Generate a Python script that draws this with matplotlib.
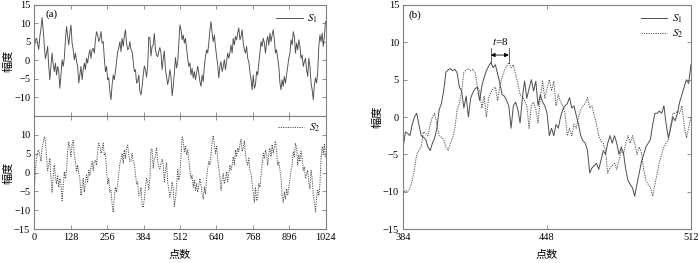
import numpy as np
import matplotlib
matplotlib.use("Agg")
import matplotlib.pyplot as plt

plt.rcParams['font.family'] = ['Liberation Serif', 'Noto Sans CJK SC']
plt.rcParams['mathtext.fontset'] = 'stix'
plt.rcParams['axes.unicode_minus'] = True

# full signal S1 at roughly 4-point spacing over 0..1024
s1_full = [
    3.8, 5.5, 6.0, 4.5, 3.0, 6.5, 8.5, 11.6, 8.3, 4.0, 0.5, 2.0,
    3.8, -1.6, -5.2, -1.2, 2.0, -1.2, -3.0, -0.7, -3.9, -1.6, -3.0, -7.5,
    -3.9, 0.2, -1.6, 0.6, 5.6, 9.2, 6.5, 4.2, 7.4, 9.6, 4.7, 2.9,
    0.2, 2.0, -0.3, -1.6, -6.1, -3.9, -1.6, -5.2, -2.5, -0.7, -2.5, 0.6,
    -0.7, 1.5, 2.9, 0.6, 2.9, 3.3, 2.0, 5.6, 7.8, 6.9, 5.1, 6.0,
    7.8, 4.7, 5.1, 0.6, -3.0, -1.6, -5.2, -4.7, -8.4, -10.6, -6.6, -3.9,
    -5.2, -3.0, -0.3, 2.4, 3.3, 5.1, 2.4, 6.0, 3.8, 6.5, 8.3, 4.7,
    2.9, 3.3, 5.1, 2.9, 2.4, -0.3, -3.0, -2.5, -6.1, -5.7, -3.9, -8.4,
    -9.3, -7.0,
    -4.0, -1.5, -2.5, -4.5, -1.5, 6.3, 6.2, 1.2, 3.8, 4.2, 7.3, 3.0,
    1.5, 1.0, 2.5, 3.5, 2.0, -2.5, 0.5, 2.6, -2.5, -4.5, -6.5, -5.0,
    -2.5, -4.4, -9.5, -7.0, -3.5, 0.8, -2.0, -0.5, 4.5,
    9.6, 8.3, 5.6, 6.9, 4.7, 6.0, 3.3, 0.6, -1.6, -0.7, -3.9, -2.1,
    -4.7, -3.0, -5.2, -3.4, -1.6, -3.4, -5.7, -7.0, -3.9, -5.7, -1.6, 1.1,
    2.9, 2.0, 4.7, 8.3, 10.5, 7.4, 5.1, 6.9, 3.8, 1.1, -1.2, -4.7,
    -1.6, -0.3, -3.0, -1.6, 0.2, -2.5, -0.3, 2.0, 0.6, 2.0, 4.2, 2.0,
    6.0, 4.2, 6.5, 5.6, 7.4, 8.8, 5.6, 6.5, 8.3, 4.7, 2.9, 2.0,
    3.8, 0.6, -0.3, -3.0, -5.2, -7.9, -3.9, -7.5, -6.6, -3.0, -3.9, -0.7,
    2.0, 5.1, 3.8, 6.0, 4.7, 2.0, 5.1, 6.5, 4.2, 7.4, 5.1, 6.9,
    8.3, 5.6, 2.0, 2.9, 0.6, -1.6, -6.1, -7.9, -5.2, -7.0, -4.3, -6.1,
    -3.9, -1.6, 0.6, 2.0, 5.6, 4.2, 7.8, 6.5, 2.0, 4.7, 2.9, 5.6,
    3.8, 0.6, 1.5, -1.6, -0.3, 0.6, -2.5, -4.3, 0.6, -1.6, -6.1, -7.9,
    -10.6, -6.6, -4.7, -6.1, -3.0, 3.8, 6.9, 5.1, 7.4, 3.8, 6.5, 10.5,
]

# S2 in panel (a): same shape, delayed by about 8 points
s2_full = [
    -5.0, 1.0,
    3.8, 5.5, 6.0, 4.5, 3.0, 6.5, 8.0, 9.5, 8.3, 4.0, 0.5, 2.0,
    3.8, -1.6, -5.2, -1.2, 2.0, -1.2, -3.0, -0.7, -3.9, -1.6, -3.0, -7.5,
    -3.9, 0.2, -1.6, 0.6, 5.6, 8.2, 6.5, 4.2, 7.4, 8.5, 4.7, 2.9,
    0.2, 2.0, -0.3, -1.6, -6.1, -3.9, -1.6, -5.2, -2.5, -0.7, -2.5, 0.6,
    -0.7, 1.5, 2.9, 0.6, 2.9, 3.3, 2.0, 5.6, 7.8, 6.9, 5.1, 6.0,
    7.8, 4.7, 5.1, 0.6, -3.0, -1.6, -5.2, -4.7, -8.4, -10.6, -6.6, -3.9,
    -5.2, -3.0, -0.3, 2.4, 3.3, 5.1, 2.4, 6.0, 3.8, 6.5, 7.3, 4.7,
    2.9, 3.3, 5.1, 2.9, 2.4, -0.3, -3.0, -2.5, -6.1, -5.7, -3.9, -8.4,
    -9.3, -7.0,
    -4.0, -1.5, -2.5, -4.5, -1.5, 6.3, 6.2, 1.2, 3.8, 4.2, 6.5, 3.0,
    1.5, 1.0, 2.5, 3.5, 2.0, -2.5, 0.5, 2.6, -2.5, -4.5, -6.5, -5.0,
    -2.5, -4.4, -9.0, -7.0, -3.5, 0.8, -2.0, -0.5, 4.5,
    9.6, 8.3, 5.6, 6.9, 4.7, 6.0, 3.3, 0.6, -1.6, -0.7, -3.9, -2.1,
    -4.7, -3.0, -5.2, -3.4, -1.6, -3.4, -5.7, -7.0, -3.9, -5.7, -1.6, 1.1,
    2.9, 2.0, 4.7, 8.3, 9.8, 7.4, 5.1, 6.9, 3.8, 1.1, -1.2, -4.7,
    -1.6, -0.3, -3.0, -1.6, 0.2, -2.5, -0.3, 2.0, 0.6, 2.0, 4.2, 2.0,
    6.0, 4.2, 6.5, 5.6, 7.4, 8.8, 5.6, 6.5, 8.3, 4.7, 2.9, 2.0,
    3.8, 0.6, -0.3, -3.0, -5.2, -7.9, -3.9, -7.5, -6.6, -3.0, -3.9, -0.7,
    2.0, 5.1, 3.8, 6.0, 4.7, 2.0, 5.1, 6.5, 4.2, 7.4, 5.1, 6.9,
    8.3, 5.6, 2.0, 2.9, 0.6, -1.6, -6.1, -7.9, -5.2, -7.0, -4.3, -6.1,
    -3.9, -1.6, 0.6, 2.0, 5.6, 4.2, 7.8, 6.5, 2.0, 4.7, 2.9, 5.6,
    3.8, 0.6, 1.5, -1.6, -0.3, 0.6, -2.5, -4.3, 0.6, -1.6, -6.1, -7.9,
    -10.6, -6.6, -4.7, -6.1, -3.0, 3.8, 6.9, 5.1, 7.4, 3.8,
]

# panel (b): points 384..512, one value per point
s1_zoom = [
    -4.0, -2.0, -2.2, -2.5, -1.0, 0.0, 0.5, -1.0, -2.5, -2.7,
    -3.0, -4.0, -4.5, -3.5, -2.8, -1.5, 1.0, 1.8, 3.5, 6.0,
    6.3, 6.5, 6.2, 6.4, 5.9, 4.0, 3.5, 1.2, 2.8, 0.0,
    2.5, 3.3, 3.8, 4.0, 2.2, 4.2, 5.3, 6.2, 6.8, 7.3,
    6.6, 7.0, 5.8, 4.5, 3.0, 2.8, 2.2, 1.5, -1.5, 1.5,
    2.0, 1.0, -0.8, 2.5, 4.8, 2.5, 3.8, 5.0, 3.5, 4.8,
    1.5, 3.0, 2.0, 1.5, 0.5, -2.5, -1.5, -2.5, -1.0, -1.5,
    0.0, 1.0, 1.5, 1.8, 2.6, 1.2, 1.5, 0.2, -1.0, -2.5,
    -3.2, -3.5, -4.5, -7.5, -6.8, -6.5, -6.2, -7.0, -5.8, -4.5,
    -5.0, -3.5, -2.5, -3.5, -2.5, -3.5, -5.0, -4.0, -4.8, -7.0,
    -8.5, -9.0, -9.5, -10.6, -9.0, -7.5, -6.0, -5.0, -4.0, -3.5,
    -3.0, -1.0, 0.5, 0.5, 0.8, 0.5, 1.5, -1.0, -2.8, -1.5,
    0.0, -0.5, 0.5, 2.0, 3.0, 4.0, 5.0, 4.5, 7.0,
]
s2_zoom = [
    -10.3, -9.8, -10.0, -9.5, -8.5, -7.0, -5.0, -4.5,
    -4.0, -2.0, -2.2, -2.5, -1.0, 0.0, 0.5, -1.0, -2.5, -2.7,
    -3.0, -4.0, -4.5, -3.5, -2.8, -1.5, 1.0, 1.8, 3.5, 6.0,
    6.3, 6.5, 6.2, 6.4, 5.9, 4.0, 3.5, 1.2, 2.8, 0.0,
    2.5, 3.3, 3.8, 4.0, 2.2, 4.2, 5.3, 6.2, 6.8, 7.3,
    6.6, 7.0, 5.8, 4.5, 3.0, 2.8, 2.2, 1.5, -1.5, 1.5,
    2.0, 1.0, -0.8, 2.5, 4.8, 2.5, 3.8, 5.0, 3.5, 4.8,
    1.5, 3.0, 2.0, 1.5, 0.5, -2.5, -1.5, -2.5, -1.0, -1.5,
    0.0, 1.0, 1.5, 1.8, 2.6, 1.2, 1.5, 0.2, -1.0, -2.5,
    -3.2, -3.5, -4.5, -7.5, -6.8, -6.5, -6.2, -7.0, -5.8, -4.5,
    -5.0, -3.5, -2.5, -3.5, -2.5, -3.5, -5.0, -4.0, -4.8, -7.0,
    -8.5, -9.0, -9.5, -10.6, -9.0, -7.5, -6.0, -5.0, -4.0, -3.5,
    -3.0, -1.0, 0.5, 0.5, 0.8, 0.5, 1.5, -1.0, -2.8, -1.5,
    0.0,
]
delay = 8
full_ticks = [0, 128, 256, 384, 512, 640, 768, 896, 1024]
zoom_ticks = [384, 448, 512]

x_full = np.linspace(0, 1024, len(s1_full))
x_full2 = np.linspace(0, 1024, len(s2_full))
x_zoom = np.arange(384, 384 + len(s1_zoom))

line_col = '#4d4d4d'
frame_col = '#808080'


def style_axes(ax):
    for sp in ax.spines.values():
        sp.set_color(frame_col)
        sp.set_linewidth(0.8)
    ax.tick_params(direction='in', top=True, right=True, length=3,
                   width=0.6, color=frame_col, labelsize=7.5, pad=3)


fig = plt.figure(figsize=(7, 2.63), dpi=100)
ax1 = fig.add_axes([0.049, 0.559, 0.416, 0.422])
ax2 = fig.add_axes([0.049, 0.129, 0.416, 0.430])
ax3 = fig.add_axes([0.576, 0.129, 0.411, 0.852])

# panel (a) top
ax1.plot(x_full, s1_full, color=line_col, lw=0.65, label='$S_1$')
ax1.set_xlim(0, 1024)
ax1.set_ylim(-15, 15)
ax1.set_xticks(full_ticks)
ax1.set_xticklabels([])
ax1.set_yticks([-10, -5, 0, 5, 10, 15])
style_axes(ax1)
ax1.set_ylabel('幅度', fontsize=8)
ax1.yaxis.set_label_coords(-0.072, 0.5)
ax1.text(0.038, 0.92, '(a)', transform=ax1.transAxes, fontsize=8,
         ha='left', va='center')
ax1.legend(loc='upper right', frameon=False, fontsize=8, handlelength=2.4,
           borderaxespad=0.3, handletextpad=0.4)

# panel (a) bottom
ax2.plot(x_full2, s2_full, color=line_col, lw=0.7, ls=(0, (1.2, 1.2)),
         label='$S_2$')
ax2.set_xlim(0, 1024)
ax2.set_ylim(-15, 15)
ax2.set_xticks(full_ticks)
ax2.set_yticks([-15, -10, -5, 0, 5, 10])
style_axes(ax2)
ax2.set_ylabel('幅度', fontsize=8)
ax2.yaxis.set_label_coords(-0.072, 0.5)
ax2.set_xlabel('点数', fontsize=8)
ax2.xaxis.set_label_coords(0.5, -0.18)
ax2.legend(loc='upper right', frameon=False, fontsize=8, handlelength=2.4,
           borderaxespad=0.1, handletextpad=0.4)

# panel (b)
ax3.plot(x_zoom, s1_zoom, color=line_col, lw=0.7, label='$S_1$')
ax3.plot(x_zoom, s2_zoom, color=line_col, lw=0.7, ls=(0, (1.2, 1.2)),
         label='$S_2$')
ax3.set_xlim(384, 512)
ax3.set_ylim(-15, 15)
ax3.set_xticks(zoom_ticks)
ax3.set_yticks([-15, -10, -5, 0, 5, 10, 15])
style_axes(ax3)
ax3.set_ylabel('幅度', fontsize=8)
ax3.yaxis.set_label_coords(-0.072, 0.5)
ax3.set_xlabel('点数', fontsize=8)
ax3.xaxis.set_label_coords(0.5, -0.094)
ax3.text(0.02, 0.955, '(b)', transform=ax3.transAxes, fontsize=8,
         ha='left', va='center')
ax3.legend(loc='upper right', frameon=False, fontsize=8, handlelength=2.4,
           borderaxespad=0.3, handletextpad=0.4, labelspacing=0.2)

# delay marker between the two peaks
ipk = int(np.argmax(s1_zoom))
p1 = x_zoom[ipk]
p2 = p1 + delay
ax3.plot([p1, p1], [s1_zoom[ipk], 9.3], color=line_col, lw=0.6)
ax3.plot([p2, p2], [s2_zoom[ipk + delay], 9.3], color=line_col, lw=0.6)
ax3.annotate('', xy=(p1, 8.3), xytext=(p2, 8.3),
             arrowprops=dict(arrowstyle='<|-|>', color='k', lw=0.6,
                             mutation_scale=6, shrinkA=0, shrinkB=0))
ax3.text((p1 + p2) / 2, 9.4, '$t$=8', fontsize=8, ha='center', va='bottom')

fig.savefig('out.png', dpi=100)
